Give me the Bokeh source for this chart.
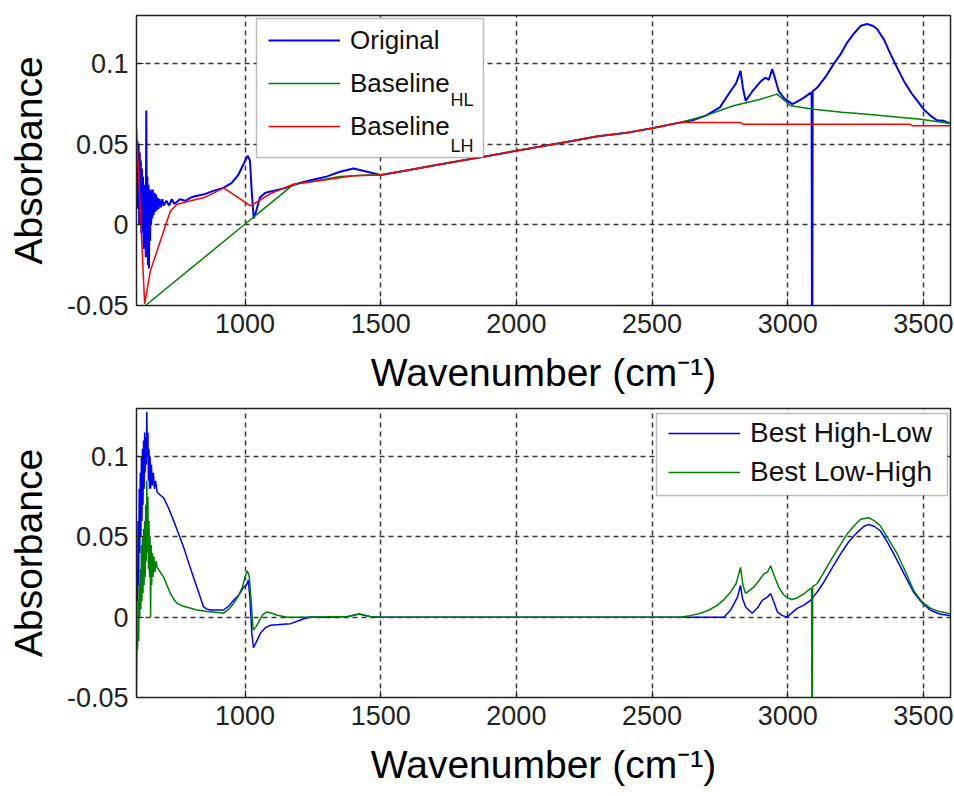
from bokeh.plotting import figure
from bokeh.layouts import column
from bokeh.models import FixedTicker, Legend, LegendItem, BoxAnnotation, Label, Range1d
from bokeh.embed import file_html
from bokeh.resources import INLINE

# ---------------- data ----------------
x_ticks = [1000, 1500, 2000, 2500, 3000, 3500]
y_ticks = [-0.05, 0, 0.05, 0.1]
y_tick_labels = ["-0.05", "0", "0.05", "0.1"]
x_limits = (600, 3600)
y_limits = (-0.05, 0.13)

x_label = "Wavenumber (cm\u207b\u00b9)"
y_label = "Absorbance"

# Top panel: Original spectrum
orig_x = [600, 602, 604, 606, 608, 610, 612, 614, 616, 618, 620, 622, 624, 626, 628, 630,
          632, 634, 636, 638, 640, 642, 644, 646, 648, 650, 652, 654, 656, 658, 660, 663,
          666, 669, 672, 675, 678, 681, 685, 690, 695, 700, 710, 720, 730, 740, 760, 780,
          800, 820, 850, 880, 920, 950, 975, 995, 1010, 1018, 1025, 1032, 1040, 1055, 1075,
          1100, 1150, 1200, 1250, 1300, 1350, 1400, 1450, 1500, 1600, 1700, 1800, 1900,
          2000, 2100, 2200, 2300, 2400, 2500, 2600, 2650, 2700, 2750, 2789, 2810, 2826,
          2835, 2845, 2870, 2900, 2918, 2930, 2943, 2955, 2967, 2985, 3000, 3017, 3040,
          3060, 3084, 3088, 3090, 3092, 3109, 3140, 3169, 3195, 3219, 3245, 3269, 3293,
          3315, 3330, 3355, 3379, 3405, 3428, 3455, 3478, 3500, 3527, 3550, 3575, 3600]
orig_y = [0.050, 0.010, 0.052, 0.020, 0.050, 0.000, 0.045, 0.015, 0.040, -0.005, 0.035,
          0.005, 0.030, -0.015, 0.025, -0.005, 0.020, -0.020, 0.071, 0.000, 0.030, -0.025,
          0.025, -0.027, 0.020, -0.010, 0.022, 0.000, 0.020, 0.004, 0.022, 0.006, 0.020,
          0.008, 0.019, 0.009, 0.017, 0.010, 0.016, 0.011, 0.016, 0.012, 0.015, 0.012,
          0.016, 0.013, 0.016, 0.015, 0.017, 0.018, 0.019, 0.021, 0.023, 0.026, 0.031,
          0.038, 0.043, 0.040, 0.020, 0.004, 0.008, 0.017, 0.020, 0.021, 0.023, 0.026,
          0.028, 0.030, 0.033, 0.035, 0.033, 0.031, 0.034, 0.037, 0.040, 0.043, 0.046,
          0.049, 0.052, 0.055, 0.057, 0.060, 0.0635, 0.065, 0.068, 0.073, 0.083, 0.088,
          0.0957, 0.085, 0.077, 0.083, 0.089, 0.0915, 0.090, 0.0967, 0.090, 0.083, 0.079,
          0.077, 0.075, 0.077, 0.079, 0.082, 0.082, -0.12, 0.083, 0.0853, 0.092, 0.0998,
          0.106, 0.1132, 0.119, 0.1236, 0.1247, 0.1235, 0.1215, 0.115, 0.106, 0.097,
          0.0894, 0.082, 0.077, 0.072, 0.0677, 0.065, 0.0646, 0.063]

# Top panel: Baseline HL
bhl_x = [633, 1180, 1250, 1300, 1350, 1400, 1450, 1500, 1600, 1700, 1800, 1900, 2000,
         2100, 2200, 2300, 2400, 2500, 2605, 2700, 2800, 2900, 2961, 3011, 3096, 3200,
         3293, 3400, 3490, 3600]
bhl_y = [-0.050, 0.0253, 0.027, 0.0285, 0.030, 0.0305, 0.031, 0.031, 0.034, 0.037,
         0.040, 0.043, 0.046, 0.049, 0.052, 0.055, 0.057, 0.060, 0.0636, 0.068, 0.074,
         0.078, 0.0812, 0.074, 0.0718, 0.070, 0.0687, 0.067, 0.0656, 0.0630]

# Top panel: Baseline LH
blh_x = [600, 630, 651, 688, 725, 750, 800, 850, 921, 1020, 1094, 1179, 1250, 1300,
         1400, 1500, 1600, 1700, 1800, 1900, 2000, 2100, 2200, 2300, 2400, 2500, 2605,
         2826, 2835, 3450, 3460, 3600]
blh_y = [0.060, -0.049, -0.0286, -0.0099, 0.0087, 0.0128, 0.0150, 0.0170, 0.0230,
         0.0118, 0.0195, 0.0253, 0.027, 0.028, 0.0305, 0.031, 0.034, 0.037, 0.040, 0.043,
         0.046, 0.049, 0.052, 0.055, 0.057, 0.060, 0.0636, 0.0636, 0.0625, 0.0625,
         0.0615, 0.0615]

# Bottom panel: Best High-Low
bestHL_x = [600, 602, 604, 606, 608, 610, 612, 614, 616, 618, 620, 622, 624, 626, 628,
            630, 632, 634, 636, 638, 640, 642, 644, 646, 648, 650, 652, 655, 658, 662,
            666, 670, 676, 688, 700, 718, 737, 755, 774, 792, 810, 828, 847, 860, 873,
            900, 921, 940, 958, 978, 995, 1005, 1012, 1018, 1025, 1031, 1040, 1057, 1075,
            1094, 1130, 1168, 1200, 1216, 1240, 1300, 1380, 1420, 1460, 1500, 1600, 1750,
            2000, 2500, 2765, 2789, 2815, 2826, 2833, 2845, 2869, 2890, 2906, 2925, 2937,
            2948, 2962, 2980, 2998, 3035, 3060, 3084, 3110, 3133, 3165, 3195, 3225, 3256,
            3280, 3298, 3320, 3342, 3370, 3404, 3435, 3464, 3495, 3527, 3560, 3588, 3600]
bestHL_y = [0.000, 0.030, 0.010, 0.060, 0.020, 0.080, 0.040, 0.090, 0.050, 0.100, 0.060,
            0.105, 0.070, 0.110, 0.080, 0.115, 0.090, 0.112, 0.095, 0.128, 0.100, 0.115,
            0.085, 0.105, 0.080, 0.100, 0.080, 0.095, 0.082, 0.090, 0.080, 0.085, 0.078,
            0.076, 0.0743, 0.068, 0.060, 0.052, 0.0434, 0.034, 0.0249, 0.016, 0.0064,
            0.005, 0.0045, 0.0045, 0.0045, 0.007, 0.0105, 0.014, 0.0187, 0.020, 0.023,
            0.012, -0.010, -0.019, -0.016, -0.0099, -0.0065, -0.005, -0.0045, -0.004,
            -0.002, -0.001, 0.000, 0.000, 0.0005, 0.002, 0.0005, 0.000, 0.000, 0.000,
            0.000, 0.000, 0.000, 0.0043, 0.0125, 0.0198, 0.012, 0.0064, 0.0025, 0.006,
            0.0105, 0.0125, 0.0148, 0.010, 0.0033, 0.001, 0.0002, 0.0055, 0.0075, 0.0105,
            0.016, 0.0218, 0.031, 0.0395, 0.047, 0.0527, 0.0565, 0.0578, 0.0565, 0.0537,
            0.046, 0.0352, 0.025, 0.0156, 0.009, 0.0043, 0.002, 0.0012, 0.001]

# Bottom panel: Best Low-High
bestLH_x = [600, 602, 604, 606, 608, 610, 612, 614, 616, 618, 620, 622, 624, 626, 628,
            630, 632, 634, 636, 638, 640, 642, 644, 646, 648, 650, 652, 654, 656, 658,
            661, 664, 668, 672, 676, 688, 700, 712, 725, 738, 750, 770, 790, 823, 860,
            900, 921, 940, 958, 975, 990, 1000, 1008, 1015, 1022, 1028, 1031, 1040, 1050,
            1065, 1080, 1100, 1119, 1156, 1200, 1380, 1420, 1460, 1500, 2000, 2605, 2640,
            2679, 2710, 2740, 2765, 2789, 2810, 2826, 2835, 2845, 2875, 2895, 2912, 2925,
            2937, 2950, 2967, 2985, 3000, 3015, 3035, 3060, 3084, 3088, 3090, 3092, 3109,
            3130, 3158, 3190, 3219, 3245, 3269, 3298, 3320, 3342, 3370, 3404, 3435, 3464,
            3495, 3527, 3560, 3588, 3600]
bestLH_y = [-0.050, -0.010, -0.020, 0.010, -0.015, 0.020, 0.000, 0.030, 0.005, 0.045,
            0.010, 0.050, 0.015, 0.055, 0.020, 0.060, 0.025, 0.070, 0.035, 0.085, 0.040,
            0.075, 0.030, 0.060, 0.025, 0.050, 0.000, 0.045, 0.020, 0.040, 0.025, 0.038,
            0.028, 0.035, 0.031, 0.028, 0.025, 0.020, 0.0148, 0.011, 0.0086, 0.007, 0.006,
            0.0045, 0.0035, 0.003, 0.0025, 0.005, 0.0086, 0.013, 0.0187, 0.025, 0.029,
            0.026, 0.012, -0.004, -0.008, -0.006, -0.003, 0.0015, 0.0033, 0.0025, 0.0012,
            0.000, 0.000, 0.0005, 0.002, 0.0005, 0.000, 0.000, 0.000, 0.001, 0.0025,
            0.0045, 0.0074, 0.011, 0.0156, 0.021, 0.031, 0.020, 0.0148, 0.0187, 0.023,
            0.027, 0.028, 0.032, 0.026, 0.0187, 0.014, 0.012, 0.011, 0.012, 0.0145,
            0.0179, 0.018, -0.12, 0.019, 0.021, 0.027, 0.0352, 0.044, 0.0518, 0.057,
            0.061, 0.062, 0.060, 0.0568, 0.049, 0.0394, 0.028, 0.0167, 0.0095, 0.0055,
            0.0035, 0.0025, 0.002]

BLUE = "#0000ff"
GREEN = "#008000"
RED = "#ff0000"
FONT = "Liberation Sans"


def make_fig(border_top, border_bottom):
    p = figure(width=954, height=398, output_backend="svg", toolbar_location=None,
               x_range=Range1d(*x_limits), y_range=Range1d(*y_limits),
               min_border_left=136, min_border_right=4,
               min_border_top=border_top, min_border_bottom=border_bottom)
    p.outline_line_color = "#222222"
    p.outline_line_width = 1.5
    p.background_fill_color = "white"
    p.border_fill_color = "white"

    p.xaxis.ticker = FixedTicker(ticks=x_ticks)
    p.yaxis.ticker = FixedTicker(ticks=y_ticks)
    p.yaxis.major_label_overrides = dict(zip(y_ticks, y_tick_labels))
    for ax in (p.xaxis, p.yaxis):
        ax.major_tick_in = 7
        ax.major_tick_out = 0
        ax.minor_tick_line_color = None
        ax.axis_line_color = "#222222"
        ax.major_tick_line_color = "#222222"
        ax.major_label_text_font = FONT
        ax.major_label_text_font_size = "27px"
        ax.major_label_text_color = "#222222"
        ax.axis_label_text_font = FONT
        ax.axis_label_text_font_size = "39px"
        ax.axis_label_text_font_style = "normal"
        ax.axis_label_text_color = "black"
    p.xaxis.major_label_standoff = 8
    p.yaxis.major_label_standoff = 8
    p.xaxis.axis_label = x_label
    p.yaxis.axis_label = y_label
    p.xaxis.axis_label_standoff = 15
    p.yaxis.axis_label_standoff = 14

    p.xgrid.ticker = FixedTicker(ticks=x_ticks)
    p.ygrid.ticker = FixedTicker(ticks=y_ticks)
    for g in (p.xgrid, p.ygrid):
        g.grid_line_color = "#222222"
        g.grid_line_width = 1.5
        g.grid_line_dash = "5 4"
        g.grid_line_alpha = 0.9
    return p


# ---------------- top panel ----------------
p1 = make_fig(15, 93)
r_orig = p1.line(orig_x, orig_y, line_color=BLUE, line_width=2)
r_bhl = p1.line(bhl_x, bhl_y, line_color=GREEN, line_width=1.5)
r_blh = p1.line(blh_x, blh_y, line_color=RED, line_width=1.5)

box1 = BoxAnnotation(left=120, right=347, top=287, bottom=148,
                     left_units="screen", right_units="screen",
                     top_units="screen", bottom_units="screen",
                     fill_color="white", fill_alpha=1.0,
                     line_color="#222222", line_width=1.5)
p1.add_layout(box1)
leg1 = Legend(items=[LegendItem(label="Original", renderers=[r_orig]),
                     LegendItem(label="Baseline", renderers=[r_bhl]),
                     LegendItem(label="Baseline", renderers=[r_blh])],
              location=(126, 153), padding=6, spacing=3,
              label_height=40, glyph_height=40, glyph_width=72, label_standoff=10,
              label_text_font=FONT, label_text_font_size="26px",
              label_text_color="#111111",
              border_line_alpha=0, background_fill_alpha=0)
p1.add_layout(leg1)
for txt, yy in (("HL", 206), ("LH", 160)):
    p1.add_layout(Label(x=314, y=yy, x_units="screen", y_units="screen", text=txt,
                        text_font=FONT, text_font_size="18px",
                        text_baseline="alphabetic", text_color="#111111"))

# ---------------- bottom panel ----------------
p2 = make_fig(10, 99)
r_hl = p2.line(bestHL_x, bestHL_y, line_color=BLUE, line_width=1.5)
r_lh = p2.line(bestLH_x, bestLH_y, line_color=GREEN, line_width=1.5)

box2 = BoxAnnotation(left=520, right=811, top=284, bottom=202,
                     left_units="screen", right_units="screen",
                     top_units="screen", bottom_units="screen",
                     fill_color="white", fill_alpha=1.0,
                     line_color="#222222", line_width=1.5)
p2.add_layout(box2)
leg2 = Legend(items=[LegendItem(label="Best High-Low", renderers=[r_hl]),
                     LegendItem(label="Best Low-High", renderers=[r_lh])],
              location=(528, 203), padding=4, spacing=3,
              label_height=36, glyph_height=36, glyph_width=72, label_standoff=10,
              label_text_font=FONT, label_text_font_size="28px",
              label_text_color="#111111",
              border_line_alpha=0, background_fill_alpha=0)
p2.add_layout(leg2)

layout = column(p1, p2, spacing=0)
open("out.html", "w").write(file_html(layout, INLINE))
